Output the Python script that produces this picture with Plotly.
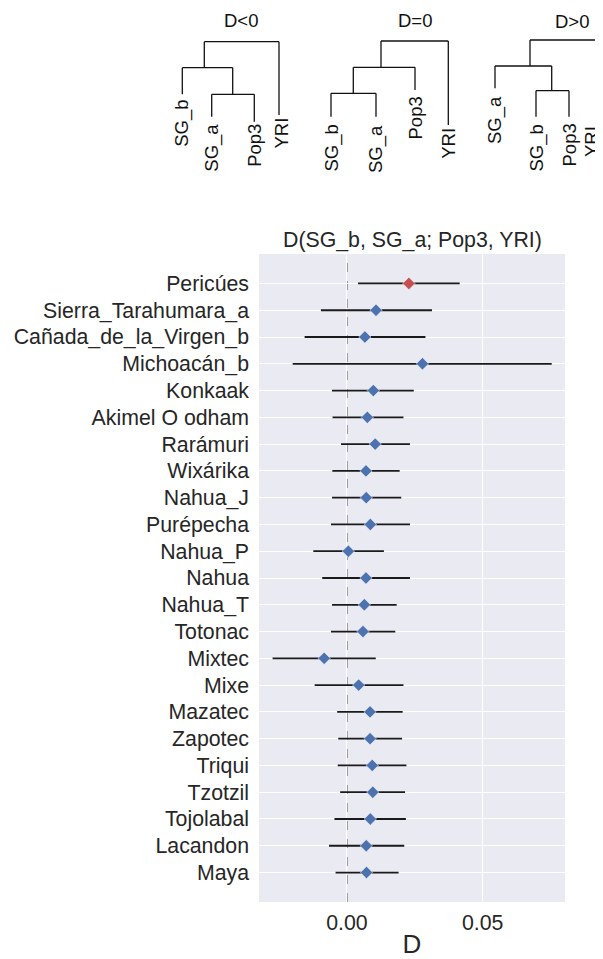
import plotly.graph_objects as go

# D statistics per population
populations = ["Pericúes", "Sierra_Tarahumara_a", "Cañada_de_la_Virgen_b", "Michoacán_b",
               "Konkaak", "Akimel O odham", "Rarámuri", "Wixárika", "Nahua_J", "Purépecha",
               "Nahua_P", "Nahua", "Nahua_T", "Totonac", "Mixtec", "Mixe", "Mazatec",
               "Zapotec", "Triqui", "Tzotzil", "Tojolabal", "Lacandon", "Maya"]
d_value = [0.0228, 0.0107, 0.0066, 0.0278, 0.0097, 0.0075, 0.0104, 0.0070, 0.0071, 0.0086,
           0.0005, 0.0070, 0.0064, 0.0059, -0.0084, 0.0043, 0.0085, 0.0085, 0.0093, 0.0095,
           0.0086, 0.0071, 0.0072]
ci_low = [0.0041, -0.0096, -0.0156, -0.0200, -0.0055, -0.0053, -0.0022, -0.0054, -0.0055,
          -0.0059, -0.0124, -0.0091, -0.0055, -0.0059, -0.0274, -0.0119, -0.0036, -0.0032,
          -0.0034, -0.0025, -0.0046, -0.0066, -0.0042]
ci_high = [0.0415, 0.0313, 0.0289, 0.0754, 0.0246, 0.0208, 0.0232, 0.0194, 0.0200, 0.0232,
           0.0136, 0.0232, 0.0183, 0.0178, 0.0106, 0.0208, 0.0205, 0.0203, 0.0219, 0.0214,
           0.0217, 0.0211, 0.0190]
significant = ["Pericúes"]

# the page puts the plot 8px in from the top-left corner
OFF = 8
W, H = 603 - OFF, 959 - OFF
FONT = "Liberation Sans, Arial, sans-serif"
BLUE, RED = "#4C72B0", "#C44E52"

# small topology sketches above the plot (page pixel positions)
# node: ("n", x, y, children), leaf: ("l", name, x, y_end, label_top, label_x)
trees = [
    ("D<0", 241, 20.5,
     ("n", None, 41.7, [("n", 204.3, 67.7, [("l", "SG_b", 182.3, 94.3, 99, 182.3),
                                             ("n", 232.7, 94.3, [("l", "SG_a", 211.7, 116.7, 123, 211.7),
                                                                 ("l", "Pop3", 254.3, 121.7, 123, 254.3)])]),
                        ("l", "YRI", 279, 115, 117, 281)])),
    ("D=0", 414.7, 20.5,
     ("n", None, 41, [("n", 381, 67.3, [("n", 353.3, 93.3, [("l", "SG_b", 331, 116.7, 124, 331),
                                                             ("l", "SG_a", 376, 116.7, 124, 376)]),
                                         ("l", "Pop3", 415, 90, 96, 415)]),
                      ("l", "YRI", 448.3, 125, 127, 448.3)])),
    ("D>0", 571.7, 21,
     ("n", None, 40, [("n", 530, 66, [("l", "SG_a", 495, 88.3, 95, 495),
                                       ("n", 551.7, 90.7, [("l", "SG_b", 536, 116.7, 124, 536),
                                                           ("l", "Pop3", 569, 116.7, 123, 569)])]),
                      ("l", "YRI", 597.7, 123, 125, 591.5)])),
]


def px(x):
    return (x - OFF) / W


def py(y):
    return 1 - (y - OFF) / H


shapes = []
annotations = []


def draw(node):
    if node[0] == "l":
        return node[2]
    _, x, y, children = node
    xs = []
    for c in children:
        cx = draw(c)
        xs.append(cx)
        y_end = c[3] if c[0] == "l" else c[2]
        shapes.append(dict(type="line", xref="paper", yref="paper", x0=px(cx), x1=px(cx),
                           y0=py(y), y1=py(y_end), line=dict(color="#111", width=1.3)))
        if c[0] == "l":
            annotations.append(dict(text=c[1], x=px(c[5]), y=py(c[4]), xref="paper", yref="paper",
                                    textangle=-90, xanchor="center", yanchor="top", showarrow=False,
                                    borderpad=0, font=dict(size=18.5, color="#111", family=FONT)))
    shapes.append(dict(type="line", xref="paper", yref="paper", x0=px(min(xs)), x1=px(max(xs)),
                       y0=py(y), y1=py(y), line=dict(color="#111", width=1.3)))
    return x


for title, tx, ty, root in trees:
    draw(root)
    annotations.append(dict(text=title, x=px(tx), y=py(ty), xref="paper", yref="paper",
                            xanchor="center", yanchor="middle", showarrow=False, borderpad=0,
                            font=dict(size=18.5, color="#111", family=FONT)))

colors = [RED if p in significant else BLUE for p in populations]

fig = go.Figure()
fig.add_trace(go.Scatter(
    x=d_value, y=populations, mode="markers",
    marker=dict(symbol="diamond", size=9.5, color=colors, line=dict(color="white", width=0.5)),
    error_x=dict(type="data", symmetric=False,
                 array=[h - v for h, v in zip(ci_high, d_value)],
                 arrayminus=[v - l for l, v in zip(ci_low, d_value)],
                 color="#1a1a1a", thickness=1.8, width=0),
    showlegend=False,
))

x_dom = [px(259), px(565)]
y_dom = [py(902), py(254)]

shapes.append(dict(type="line", xref="x", yref="paper", x0=0, x1=0, y0=y_dom[0], y1=y_dom[1],
                   layer="below", line=dict(color="#808080", width=1.5, dash="dash")))

annotations.append(dict(text="D(SG_b, SG_a; Pop3, YRI)", x=px(412), y=py(240), xref="paper",
                        yref="paper", xanchor="center", yanchor="middle", showarrow=False,
                        font=dict(size=21.3, color="#262626", family=FONT)))

fig.update_layout(
    width=W, height=H,
    margin=dict(l=0, r=0, t=0, b=0),
    paper_bgcolor="white", plot_bgcolor="#EAEAF2",
    font=dict(family=FONT, size=21.3, color="#262626"),
    shapes=shapes, annotations=annotations,
    xaxis=dict(domain=x_dom, range=[-0.0324, 0.0803], tickvals=[0, 0.05],
               ticktext=["0.00", "0.05"], showgrid=True, gridcolor="white", gridwidth=1.3,
               zeroline=False, showline=False, ticks="", ticklabelstandoff=6,
               title=dict(text="D", standoff=3)),
    yaxis=dict(domain=y_dom, type="category", categoryarray=populations,
               range=[len(populations) - 1 + 1.1, -1.1], showgrid=True, gridcolor="white",
               gridwidth=1.3, zeroline=False, showline=False, ticks="", ticklabelstandoff=9),
)

fig.write_html("out.html")
